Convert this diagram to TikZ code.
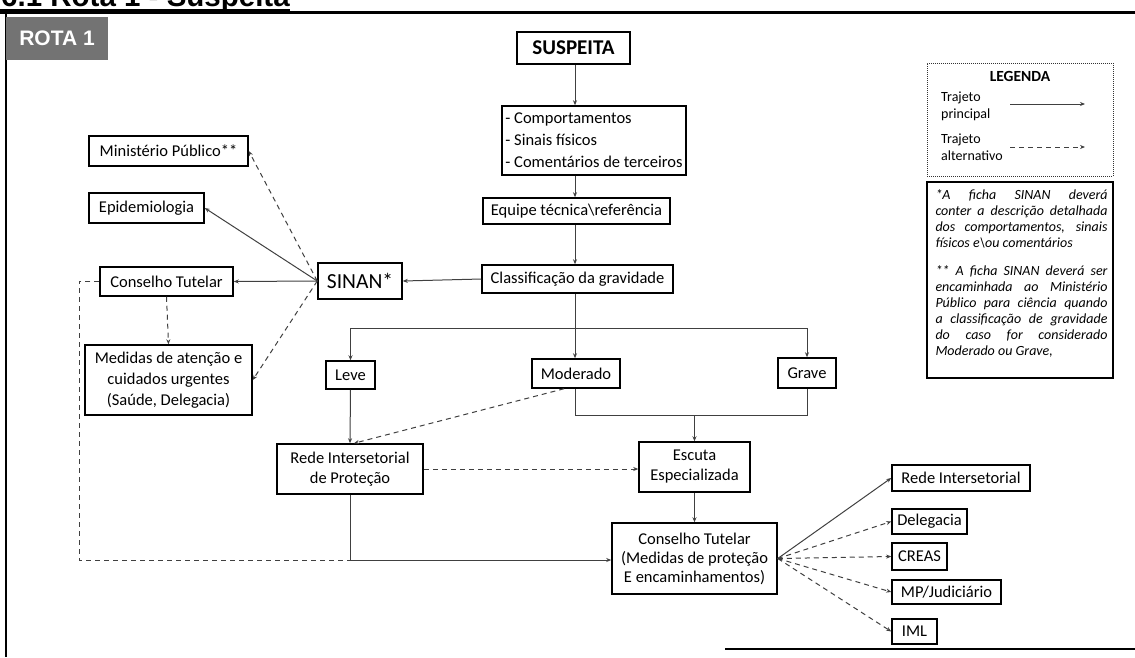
\documentclass[tikz,border=0pt]{standalone}
\usepackage{fontspec}
\setmainfont{Carlito}
\newfontfamily\headfont{Liberation Sans}
\usetikzlibrary{arrows.meta}

\begin{document}
\begin{tikzpicture}[x=1pt,y=-1pt,
  box/.style={draw=black, line width=1.5pt, inner sep=0pt, align=center,
              font=\fontsize{16.5}{20}\selectfont},
  conn/.style={draw=black!75, line width=1pt, -{Stealth[length=5pt,width=4pt]}},
  alt/.style={conn, dash pattern=on 5pt off 4pt},
  plain/.style={draw=black!75, line width=1pt},
  altplain/.style={plain, dash pattern=on 5pt off 4pt},
  frame/.style={draw=black, line width=2.2pt}]
\useasboundingbox (0,0) rectangle (1135,657);

% page heading and frame
\node[anchor=base west, inner sep=0pt,
      font=\headfont\bfseries\fontsize{29.5}{34}\selectfont] (title) at (1,6) {6.1 Rota 1 - Suspeita};
\draw[frame] (0,10.5) -- (290,10.5);
\draw[frame] (0,12.5) -- (1135,12.5);
\draw[frame] (6,12.5) -- (6,657);
\draw[frame] (725,649) -- (1135,649);

\node[fill=black!55, minimum width=102pt, minimum height=43pt, inner sep=0pt, text=white,
      font=\headfont\bfseries\fontsize{21}{24}\selectfont] (rota) at (57,38.5) {ROTA 1};

% main flow
\node[box, minimum width=113pt, minimum height=32pt,
      font=\bfseries\fontsize{21}{24}\selectfont] (susp) at (573.5,48) {SUSPEITA};
\node[box, minimum width=184pt, minimum height=69pt, align=left,
      font=\fontsize{16.5}{22}\selectfont] (comp) at (594,140.5)
      {- Comportamentos\\- Sinais físicos\\- Comentários de terceiros};
\node[box, minimum width=187pt, minimum height=26pt] (equipe) at (576.5,211) {Equipe técnica\textbackslash referência};
\node[box, minimum width=191pt, minimum height=28pt] (classif) at (577.5,279) {Classificação da gravidade};

% SINAN branch
\node[box, minimum width=84pt, minimum height=36pt,
      font=\fontsize{21.5}{24}\selectfont] (sinan) at (360,281) {SINAN*};
\node[box, minimum width=133pt, minimum height=29pt] (ctl) at (166.5,281.5) {Conselho Tutelar};
\node[box, minimum width=115pt, minimum height=30pt] (epi) at (146.5,208) {Epidemiologia};
\node[box, minimum width=159pt, minimum height=30pt] (mp) at (168.5,151) {Ministério Público**};
\node[box, minimum width=167pt, minimum height=70pt,
      font=\fontsize{16.5}{21}\selectfont] (med) at (168.5,380)
      {Medidas de atenção e\\cuidados urgentes\\(Saúde, Delegacia)};

% severity levels
\node[box, minimum width=49pt, minimum height=28pt] (leve) at (350.5,375) {Leve};
\node[box, minimum width=88pt, minimum height=29pt] (moder) at (576,373.5) {Moderado};
\node[box, minimum width=58pt, minimum height=30pt] (grave) at (807,373) {Grave};

\node[box, minimum width=146pt, minimum height=50pt] (redep) at (350,469) {Rede Intersetorial\\de Proteção};
\node[box, minimum width=111pt, minimum height=50pt] (escuta) at (694.5,467) {Escuta\\Especializada};
\node[box, minimum width=165pt, minimum height=71pt,
      font=\fontsize{16.5}{19}\selectfont] (ctb) at (694.5,558.5)
      {Conselho Tutelar\\(Medidas de proteção\\E encaminhamentos)};

% referrals
\node[box, minimum width=138pt, minimum height=26pt] (ri) at (961,478) {Rede Intersetorial};
\node[box, minimum width=75pt, minimum height=25pt] (deleg) at (929.5,521.5) {Delegacia};
\node[box, minimum width=55pt, minimum height=27pt] (creas) at (919.5,556.5) {CREAS};
\node[box, minimum width=109pt, minimum height=24pt] (mpj) at (946.5,592) {MP/Judiciário};
\node[box, minimum width=45pt, minimum height=25pt] (iml) at (914.5,631.5) {IML};

% legend
\node[draw=black!80, densely dotted, line width=1pt, minimum width=186pt, minimum height=113pt,
      inner sep=0pt] (legend) at (1020,119.5) {};
\node[font=\bfseries\fontsize{15.5}{18}\selectfont] (legtitle) at (1020,76) {LEGENDA};
\node[anchor=west, align=left, inner sep=0pt, font=\fontsize{14}{17}\selectfont] (lprin) at (941,106) {Trajeto\\principal};
\node[anchor=west, align=left, inner sep=0pt, font=\fontsize{14}{17}\selectfont] (lalt) at (941,147) {Trajeto\\alternativo};
\coordinate (ps) at (1010,104);
\coordinate (pe) at (1085,104);
\coordinate (as) at (1010,147);
\coordinate (ae) at (1085,147);
\draw[conn] (ps) -- (pe);
\draw[alt] (as) -- (ae);

% notes
\node[draw=black, line width=1.5pt, minimum width=186pt, minimum height=196pt,
      inner sep=0pt] (notes) at (1020,280) {};
\node[anchor=north, text width=172pt, align=justify, inner sep=0pt,
      font=\itshape\fontsize{14}{16}\selectfont] (notetext) at (1021.5,189)
  {\setlength{\parindent}{0pt}*A ficha SINAN deverá\linebreak
   conter a descrição detalhada\linebreak
   dos comportamentos, sinais\linebreak
   físicos e\textbackslash ou comentários\par\vspace{12pt}
   ** A ficha SINAN deverá ser\linebreak
   encaminhada ao Ministério\linebreak
   Público para ciência quando\linebreak
   a classificação de gravidade\linebreak
   do caso for considerado\linebreak
   Moderado ou Grave,};

% connectors: main spine
\coordinate (spine) at (575,0);
\draw[conn] (spine |- susp.south) -- (spine |- comp.north);
\draw[conn] (spine |- comp.south) -- (spine |- equipe.north);
\draw[conn] (spine |- equipe.south) -- (spine |- classif.north);
\draw[conn] (spine |- classif.south) -- (spine |- moder.north);
\coordinate (fork) at (575,328);
\draw[conn] (fork) -| (leve.north);
\draw[conn] (fork) -| (grave.north);

% connectors: notification
\draw[conn] (classif.west) -- (sinan.east);
\draw[conn] (sinan.west) -- (ctl.east);
\draw[conn] (sinan.west) -- (epi.east);
\draw[alt] (sinan.west) -- (mp.east);
\draw[alt] (sinan.west) -- (med.east);
\draw[alt] (ctl.south) -- (med.north);

% connectors: severity to services
\draw[conn] (leve.south) -- (redep.north);
\draw[alt] ([xshift=-12pt]moder.south) -- ([xshift=4pt]redep.north);
\coordinate (merge) at (575,415);
\draw[plain] (spine |- moder.south) -- (merge) -| (grave.south);
\draw[conn] (escuta.north |- merge) -- (escuta.north);
\draw[alt] (redep.east) -- (redep.east -| escuta.west);
\draw[conn] (escuta.south) -- (ctb.north);
\coordinate (join) at (350,560);
\coordinate (loop) at (79,0);
\draw[altplain] (ctl.west) -- (loop |- ctl.west) -- (loop |- join) -- (join);
\draw[conn] (redep.south) -- (join) -- (join -| ctb.west);

% connectors: referrals
\draw[conn] (ctb.east) -- (ri.west);
\foreach \t in {deleg, creas, mpj, iml}
  \draw[alt] (ctb.east) -- (\t.west);
\end{tikzpicture}
\end{document}
